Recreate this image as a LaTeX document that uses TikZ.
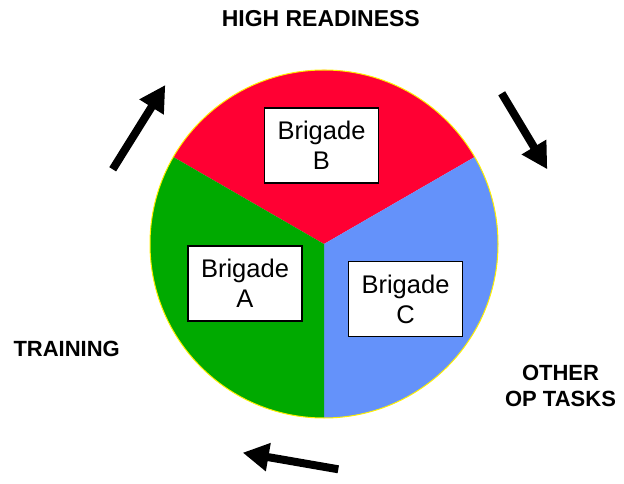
\documentclass[tikz,border=0pt]{standalone}
\usepackage{fontspec}
\setmainfont{Liberation Sans}
\usetikzlibrary{arrows.meta}

\definecolor{pieRed}{RGB}{255,0,51}
\definecolor{pieGreen}{RGB}{0,170,0}
\definecolor{pieBlue}{RGB}{100,146,250}
\definecolor{rimYellow}{RGB}{255,240,0}

\tikzset{
  brigbox/.style={draw=black, line width=1.3pt, fill=white,
    minimum width=114pt, minimum height=75pt, inner sep=0pt,
    align=center, font=\fontsize{25.5}{30}\selectfont},
  phase/.style={font=\fontsize{22}{26}\selectfont\bfseries, align=center, inner sep=0pt},
  cyclearrow/.style={line width=8pt, -{Triangle[length=26pt,width=27pt]}},
}

\begin{document}
\begin{tikzpicture}[x=1pt,y=-1pt]
  \useasboundingbox (0,0) rectangle (624,484);

  % the three sectors of the rotation wheel
  \coordinate (ctr) at (324,244);
  \def\R{174}
  \fill[pieRed]   (ctr) -- ++(-150:\R) arc[start angle=-150, end angle=-30, radius=\R] -- cycle;
  \fill[pieBlue]  (ctr) -- ++(-30:\R)  arc[start angle=-30,  end angle=90,  radius=\R] -- cycle;
  \fill[pieGreen] (ctr) -- ++(90:\R)   arc[start angle=90,   end angle=210, radius=\R] -- cycle;
  \draw[rimYellow, line width=1pt] (ctr) circle[radius=\R];

  % brigade labels
  \node[brigbox] (bB) at (321.5,145.5) {Brigade\\B};
  \node[brigbox] (bA) at (245,283.5) {Brigade\\A};
  \node[brigbox] (bC) at (405.5,299) {Brigade\\C};

  % phase names
  \node[phase, font=\fontsize{23}{26}\selectfont\bfseries] (high) at (320.8,19) {HIGH READINESS};
  \node[phase] (train) at (66.7,349) {TRAINING};
  \node[phase] (other) at (560.5,385.5) {OTHER\\OP TASKS};

  % rotation direction arrows
  \coordinate (ulTail) at (112.7,169.3);
  \coordinate (ulTip)  at (165.3,85);
  \coordinate (urTail) at (501.7,93.3);
  \coordinate (urTip)  at (547.3,169.3);
  \coordinate (btTail) at (338.3,469.3);
  \coordinate (btTip)  at (242.7,452.7);
  \draw[cyclearrow] (ulTail) -- (ulTip);
  \draw[cyclearrow] (urTail) -- (urTip);
  \draw[cyclearrow] (btTail) -- (btTip);
\end{tikzpicture}
\end{document}
